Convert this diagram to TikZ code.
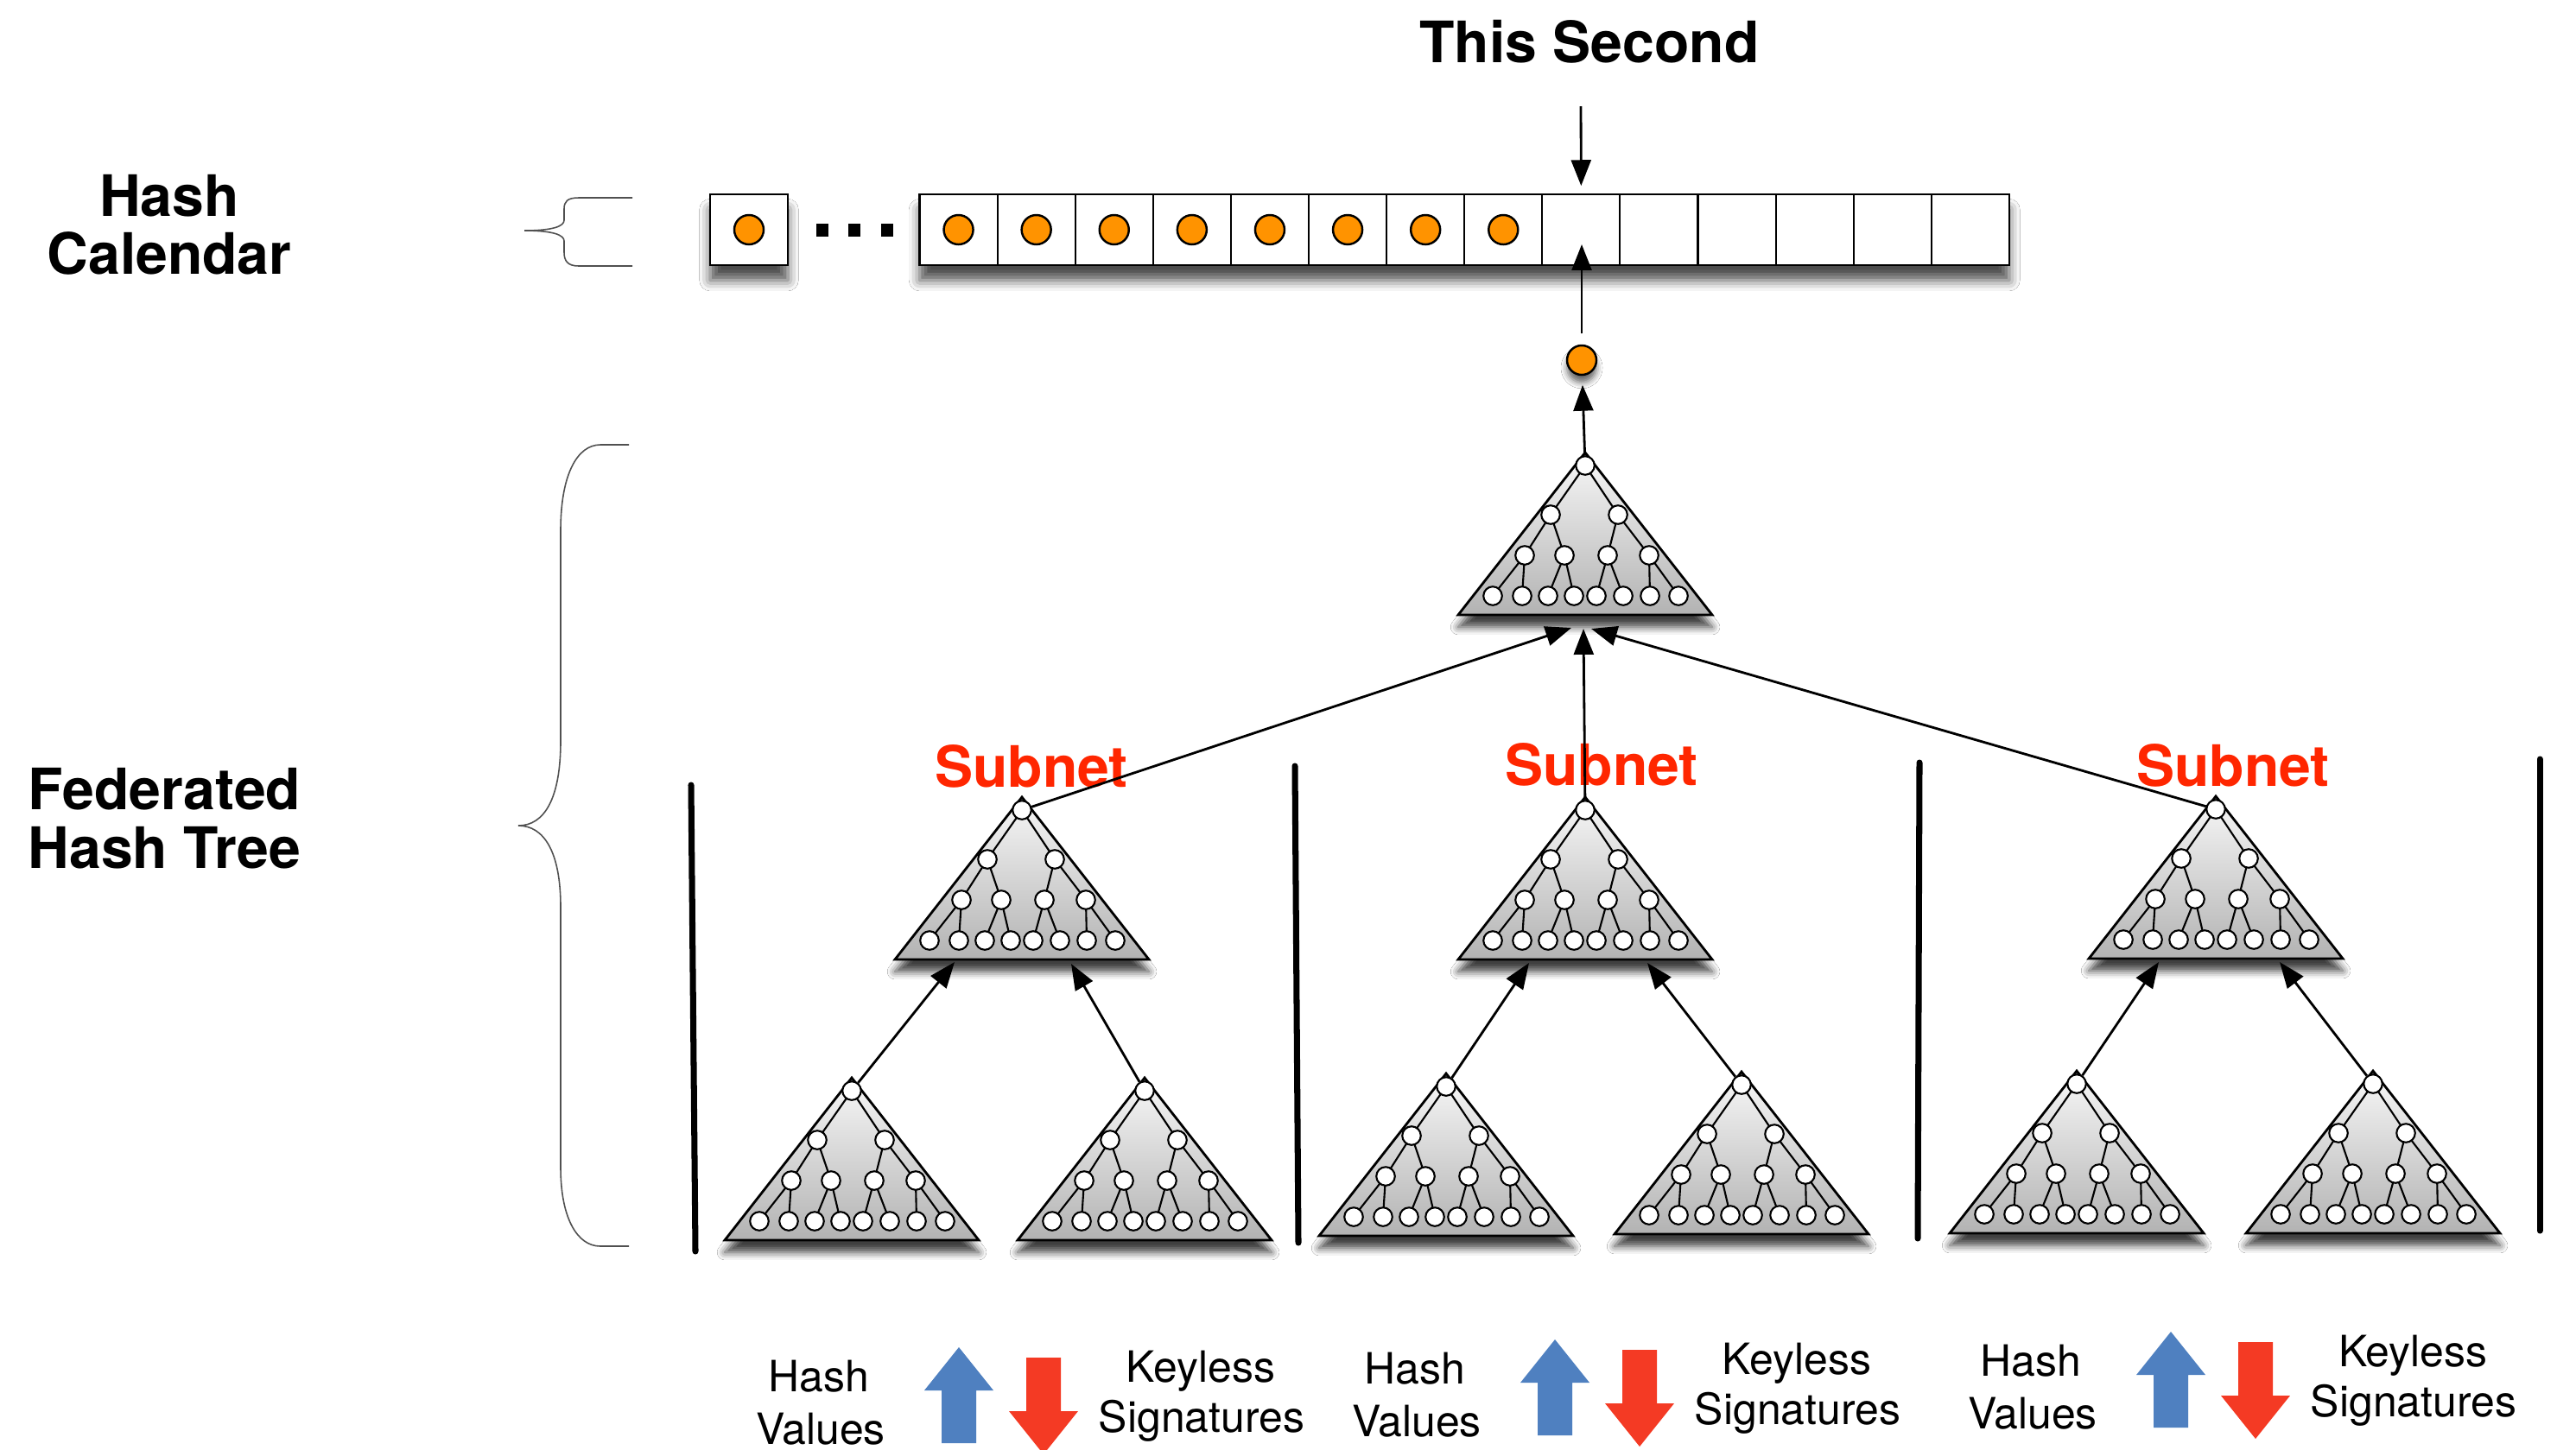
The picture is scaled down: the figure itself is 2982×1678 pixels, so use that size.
\documentclass[tikz,border=0pt]{standalone}
\usepackage{fontspec}
\setmainfont{TeX Gyre Heros}
\usetikzlibrary{arrows.meta,shadows.blur}

\definecolor{calorange}{RGB}{255,147,0}
\definecolor{subred}{RGB}{255,38,0}
\definecolor{hashblue}{RGB}{79,128,192}
\definecolor{sigred}{RGB}{244,58,36}
\definecolor{bracegray}{RGB}{80,80,80}

\tikzset{
  pics/htree/.style={code={
    % shaded triangle with its drop shadow
    \path[treetri] (0,-15) -- (147,173) -- (-147,173) -- cycle;
    % binary tree inside the triangle
    \draw[treeedge] (-40,57) -- (0,0) -- (38,57)
      (-70,104) -- (-40,57) -- (-24,104)
      (26,104) -- (38,57) -- (74,104)
      (-107,151) -- (-70,104) -- (-73,151)
      (-43,151) -- (-24,104) -- (-13,151)
      (13,151) -- (26,104) -- (44,151)
      (75,151) -- (74,104) -- (108,151);
    \node[hnode] (-root) at (0,0) {};
    \foreach \p/\q [count=\i] in {-40/57,38/57,-70/104,-24/104,26/104,74/104,
        -107/151,-73/151,-43/151,-13/151,13/151,44/151,75/151,108/151}
      \node[hnode] (-n\i) at (\p,\q) {};
  }}
}

\begin{document}
\begin{tikzpicture}[x=0.01cm,y=-0.01cm,
  treetri/.style={draw=black, line width=0.8pt, line join=miter,
    top color=black!3, bottom color=black!30,
    blur shadow={shadow xshift=0pt, shadow yshift=-4pt, shadow blur radius=2.5pt, shadow opacity=75}},
  treeedge/.style={line width=0.6pt},
  hnode/.style={circle, draw=black, fill=white, line width=0.6pt, minimum size=0.215cm, inner sep=0pt},
  calcell/.style={draw=black, fill=white, line width=0.6pt, minimum width=0.901cm, minimum height=0.82cm, inner sep=0pt},
  odot/.style={circle, draw=black, fill=calorange, line width=0.7pt, minimum size=0.34cm, inner sep=0pt},
  conn/.style={draw=black, line width=0.8pt, -{Triangle[length=8.5pt,width=6.5pt,fill=black]}},
  sepbar/.style={line width=2pt, line cap=round},
  hbrace/.style={draw=bracegray, line width=0.45pt},
  ttl/.style={font=\fontsize{18.8}{20}\selectfont\bfseries, anchor=base, inner sep=0pt},
  sublbl/.style={font=\fontsize{18.8}{20}\selectfont\bfseries, text=subred, anchor=base, inner sep=0pt},
  lbl/.style={font=\fontsize{14.2}{16}\selectfont, anchor=base, inner sep=0pt},
  calshadow/.style={fill=white, blur shadow={shadow xshift=0pt, shadow yshift=-5pt, shadow blur radius=3.5pt, shadow opacity=70}},
]
\useasboundingbox (0,0) rectangle (2982,1678);
\fill[white] (0,0) rectangle (2982,1678);

% ---- braces on the left ----
\path[hbrace] (732,229) -- (670,229) .. controls (657,229) and (653,233) .. (653,242)
  -- (653,255) .. controls (653,262) and (640,267) .. (607,267)
  .. controls (640,267) and (653,272) .. (653,279)
  -- (653,292) .. controls (653,302) and (657,308) .. (670,308) -- (732,308);
\path[hbrace] (728,515) -- (695,515) .. controls (668,515) and (649,550) .. (649,614)
  -- (649,858) .. controls (649,925) and (630,956) .. (600,956)
  .. controls (630,956) and (649,987) .. (649,1050)
  -- (649,1352) .. controls (649,1410) and (668,1443) .. (695,1443) -- (728,1443);

% ---- section titles ----
\node[ttl] (hcal1) at (196,250) {Hash};
\node[ttl] (hcal2) at (196,317) {Calendar};
\node[ttl, anchor=base west] (fht1) at (32,937) {Federated};
\node[ttl, anchor=base west] (fht2) at (32,1005) {Hash Tree};
\node[ttl] (now) at (1840,72) {This Second};

% ---- hash calendar row ----
\path[calshadow] (822,225) rectangle (912,307);
\path[calshadow] (1064.5,225) rectangle (2325.9,307);
\node[calcell] (cal0) at (867,266) {};
\node[odot] (cd0) at (cal0) {};
\foreach \i in {1,...,14}
  \node[calcell] (cal\i) at ({1064.5+90.1*(\i-0.5)},266) {};
\foreach \i in {1,...,8}
  \node[odot] (cd\i) at (cal\i) {};
\draw[line width=0.8pt] (822,225) rectangle (912,307);
\draw[line width=0.8pt] (1064.5,225) rectangle (2325.9,307);
\foreach \x in {945,982,1020}
  \fill (\x,258.5) rectangle ++(14,15);

% ---- trees ----
\pic (top) at (1835,539) {htree};
\pic (s1) at (1183,938) {htree};
\pic (s2) at (1835,938) {htree};
\pic (s3) at (2565,937) {htree};
\pic (l1a) at (986,1263) {htree};
\pic (l1b) at (1325,1263) {htree};
\pic (l2a) at (1674,1258) {htree};
\pic (l2b) at (2016,1256) {htree};
\pic (l3a) at (2404,1255) {htree};
\pic (l3b) at (2747,1255) {htree};

\node[sublbl] (sub1) at (1194,911) {Subnet};
\node[sublbl] (sub2) at (1854,909) {Subnet};
\node[sublbl] (sub3) at (2585,910) {Subnet};

% ---- separators between subnets ----
\draw[sepbar] (800,909) -- (805,1449);
\draw[sepbar] (1499,887) -- (1503,1439);
\draw[sepbar] (2222,883) -- (2220,1434);
\draw[sepbar] (2940,879) -- (2940,1425);

% ---- hash value of this second ----
\node[odot, blur shadow={shadow xshift=0pt, shadow yshift=-2.5pt, shadow blur radius=2pt, shadow opacity=60}] (hdot) at (1831,417) {};

% ---- connectors ----
\coordinate (nowtop) at (1830,123);
\coordinate (nowtip) at (1831,283);
\draw[conn, shorten >=2.5pt] (nowtop) -- (cal9.north);
\draw[conn, shorten <=3.5pt] (hdot) -- (nowtip);
\draw[conn, shorten >=3pt] (top-root) -- (hdot);

\coordinate (tt1) at (1819,727);
\coordinate (tt2) at (1833,728);
\coordinate (tt3) at (1842,728);
\draw[conn] (s1-root) -- (tt1);
\draw[conn] (s2-root) -- (tt2);
\draw[conn] (s3-root) -- (tt3);

\coordinate (b1a) at (1105,1114);
\coordinate (b1b) at (1240,1116);
\coordinate (b2a) at (1770,1115);
\coordinate (b2b) at (1907,1115);
\coordinate (b3a) at (2499,1114);
\coordinate (b3b) at (2639,1114);
\draw[conn] (l1a-root) -- (b1a);
\draw[conn] (l1b-root) -- (b1b);
\draw[conn] (l2a-root) -- (b2a);
\draw[conn] (l2b-root) -- (b2b);
\draw[conn] (l3a-root) -- (b3a);
\draw[conn] (l3b-root) -- (b3b);

% ---- legend under each subnet ----
\foreach \g/\dx/\dy in {1/0/0, 2/690/-9, 3/1403/-18} {
  \node[lbl] (hv\g a) at ({948+\dx},{1611+\dy}) {Hash};
  \node[lbl] (hv\g b) at ({950+\dx},{1672+\dy}) {Values};
  \node[lbl] (ks\g a) at ({1390+\dx},{1600+\dy}) {Keyless};
  \node[lbl] (ks\g b) at ({1391+\dx},{1658+\dy}) {Signatures};
  \fill[hashblue] ({1110+\dx},{1560+\dy}) -- ++(40,50) -- ++(-20,0) -- ++(0,61)
    -- ++(-40,0) -- ++(0,-61) -- ++(-20,0) -- cycle;
  \fill[sigred] ({1188+\dx},{1572+\dy}) -- ++(40,0) -- ++(0,62) -- ++(20,0)
    -- ++(-40,50) -- ++(-40,-50) -- ++(20,0) -- cycle;
}
\end{tikzpicture}
\end{document}
